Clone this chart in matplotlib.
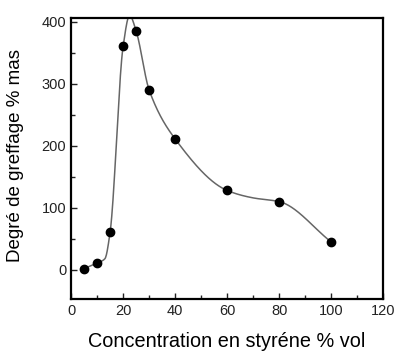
import numpy as np
import matplotlib
matplotlib.use("Agg")
import matplotlib.pyplot as plt
from matplotlib.ticker import MultipleLocator

# measured points
conc = [5, 10, 15, 20, 25, 30, 40, 60, 80, 100]
greffage = [2, 11, 61, 360, 385, 290, 211, 128, 110, 45]

# knots of the hand-drawn curve
curve_x = [5, 10, 13, 15, 20, 22.5, 25, 30, 40, 60, 70, 80, 100]
curve_y = [2, 11, 18, 61, 360, 410, 385, 290, 211, 128, 116, 110, 45]


def pchip(x, y, xs):
    x = np.asarray(x, float)
    y = np.asarray(y, float)
    h = np.diff(x)
    d = np.diff(y) / h
    m = np.zeros_like(y)
    for k in range(1, len(x) - 1):
        if d[k - 1] * d[k] > 0:
            w1 = 2 * h[k] + h[k - 1]
            w2 = h[k] + 2 * h[k - 1]
            m[k] = (w1 + w2) / (w1 / d[k - 1] + w2 / d[k])
    m[0] = d[0]
    m[-1] = d[-1]
    idx = np.clip(np.searchsorted(x, xs) - 1, 0, len(x) - 2)
    t = (xs - x[idx]) / h[idx]
    h00 = 2 * t**3 - 3 * t**2 + 1
    h10 = t**3 - 2 * t**2 + t
    h01 = -2 * t**3 + 3 * t**2
    h11 = t**3 - t**2
    return (h00 * y[idx] + h10 * h[idx] * m[idx]
            + h01 * y[idx + 1] + h11 * h[idx] * m[idx + 1])


plt.rcParams["font.family"] = ["Liberation Sans", "DejaVu Sans"]

fig = plt.figure(figsize=(3.95, 3.51), dpi=100)
ax = fig.add_axes([0.18, 0.148, 0.79, 0.801])

xs = np.linspace(curve_x[0], curve_x[-1], 600)
ax.plot(xs, pchip(curve_x, curve_y, xs), color="#666666", lw=1.1, zorder=2)
ax.plot(conc, greffage, "o", color="black", ms=6, zorder=3)

ax.set_xlim(0, 120)
ax.set_ylim(-47, 406)
ax.xaxis.set_major_locator(MultipleLocator(20))
ax.xaxis.set_minor_locator(MultipleLocator(10))
ax.yaxis.set_major_locator(MultipleLocator(100))
ax.yaxis.set_minor_locator(MultipleLocator(50))
ax.tick_params(which="both", direction="in", top=False, right=False,
               labelsize=10.5, colors="#222222")
ax.tick_params(which="major", length=4, width=1)
ax.tick_params(which="minor", length=3, width=1)
for s in ax.spines.values():
    s.set_linewidth(1.6)

ax.set_xlabel("Concentration en styréne % vol", fontsize=14.3, labelpad=10)
ax.set_ylabel("Degré de greffage % mas", fontsize=13.5)
ax.yaxis.set_label_coords(-0.152, 0.51)

fig.savefig("out.png", dpi=100)
